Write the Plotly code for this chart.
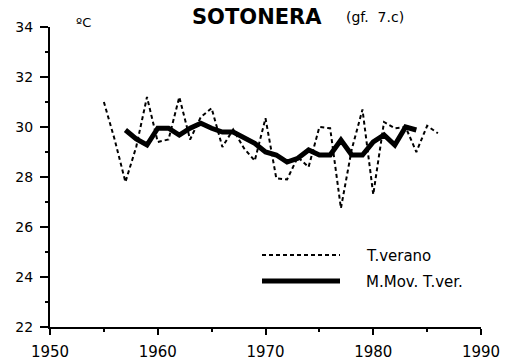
import plotly.graph_objects as go

# Summer mean temperature, Sotonera (ºC)
years_t = list(range(1955, 1987))
t_verano = [31.0, 29.5, 27.8, 29.2, 31.2, 29.4, 29.5, 31.2, 29.5, 30.4,
            30.75, 29.2, 29.9, 29.15, 28.65, 30.35, 27.95, 27.9, 28.8, 28.4,
            30.0, 29.95, 26.75, 29.1, 30.7, 27.3, 30.2, 29.95, 30.0, 29.0,
            30.05, 29.75]

# Moving average of summer temperature
years_mm = list(range(1957, 1985))
mmov = [29.88, 29.52, 29.28, 29.95, 29.95, 29.68, 29.95, 30.15, 29.95, 29.8,
        29.8, 29.6, 29.35, 29.0, 28.88, 28.6, 28.75, 29.08, 28.88, 28.88,
        29.48, 28.88, 28.88, 29.4, 29.68, 29.28, 30.0, 29.88]

x_ticks = [1950, 1960, 1970, 1980, 1990]
y_ticks = [22, 24, 26, 28, 30, 32, 34]
legend_names = ["T.verano", "M.Mov. T.ver."]

FONT = "DejaVu Sans, Arial, sans-serif"

fig = go.Figure()
fig.add_trace(go.Scatter(x=years_t, y=t_verano, mode="lines",
                         line=dict(color="black", width=2, dash="4px,3px"),
                         name=legend_names[0], showlegend=False))
fig.add_trace(go.Scatter(x=years_mm, y=mmov, mode="lines",
                         line=dict(color="black", width=5),
                         name=legend_names[1], showlegend=False))

W, H = 510, 364
ml, mr, mt, mb = 50, 29, 27, 37
pw, ph = W - ml - mr, H - mt - mb


def px(x):
    return (x - ml) / pw


def py(y):
    return (H - mb - y) / ph


# hand-drawn legend block inside the plot
shapes = [
    dict(type="line", xref="paper", yref="paper", x0=px(262), x1=px(340),
         y0=py(255), y1=py(255), line=dict(color="black", width=2, dash="4px,3px")),
    dict(type="line", xref="paper", yref="paper", x0=px(262), x1=px(340),
         y0=py(281), y1=py(281), line=dict(color="black", width=5)),
]
annotations = [
    dict(xref="paper", yref="paper", x=px(364), y=py(256), text=legend_names[0],
         showarrow=False, xanchor="left", yanchor="middle",
         font=dict(family=FONT, size=15, color="black")),
    dict(xref="paper", yref="paper", x=px(364), y=py(282), text=legend_names[1],
         showarrow=False, xanchor="left", yanchor="middle",
         font=dict(family=FONT, size=15, color="black")),
    dict(xref="paper", yref="paper", x=px(190), y=py(17), text="<b>SOTONERA</b>",
         showarrow=False, xanchor="left", yanchor="middle",
         font=dict(family=FONT, size=21, color="black")),
    dict(xref="paper", yref="paper", x=px(344), y=py(17), text="(gf.  7.c)",
         showarrow=False, xanchor="left", yanchor="middle",
         font=dict(family=FONT, size=14, color="black")),
    dict(xref="paper", yref="paper", x=px(74), y=py(22), text="ºC",
         showarrow=False, xanchor="left", yanchor="middle",
         font=dict(family=FONT, size=13, color="black")),
]

fig.update_layout(
    width=W, height=H,
    margin=dict(l=ml, r=mr, t=mt, b=mb, pad=0, autoexpand=False),
    paper_bgcolor="white", plot_bgcolor="white",
    showlegend=False,
    shapes=shapes, annotations=annotations,
    xaxis=dict(range=[1950, 1990], tickvals=x_ticks, ticktext=[str(v) for v in x_ticks],
               automargin=False,
               showgrid=False, zeroline=False, showline=True, linecolor="black",
               linewidth=2, ticks="outside", ticklen=6, tickwidth=2, tickcolor="black",
               ticklabelstandoff=4,
               minor=dict(dtick=5, tick0=1950, ticks="outside", ticklen=3,
                          tickwidth=2, tickcolor="black", showgrid=False),
               tickfont=dict(family=FONT, size=15, color="black")),
    yaxis=dict(range=[22, 34], tickvals=y_ticks, ticktext=[str(v) for v in y_ticks],
               automargin=False,
               showgrid=False, zeroline=False, showline=True, linecolor="black",
               linewidth=2, ticks="outside", ticklen=8, tickwidth=1.5, tickcolor="black",
               ticklabelstandoff=4,
               minor=dict(dtick=1, tick0=22, ticks="outside", ticklen=3,
                          tickwidth=1.5, tickcolor="black", showgrid=False),
               tickfont=dict(family=FONT, size=14, color="black")),
)

fig.write_html("out.html")
